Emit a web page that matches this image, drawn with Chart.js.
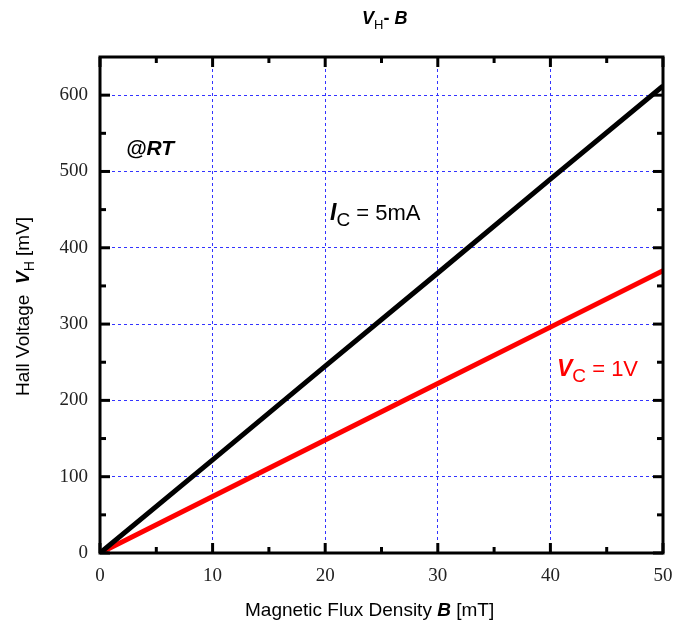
<!DOCTYPE html>
<html><head><meta charset="utf-8">
<script src="https://cdn.jsdelivr.net/npm/chart.js@4.4.1/dist/chart.umd.min.js"></script>
<style>html,body{margin:0;padding:0;background:#fff}#wrap{width:675px;height:628px}</style>
</head><body><div id="wrap"><canvas id="c"></canvas></div>
<script>
const fluxB = [0, 10, 20, 30, 40, 50];
const hallIc5mA = [0, 122, 245, 367, 490, 612];
const hallVc1V = [0, 74, 148, 222, 296, 370];
const xTickValues = [0, 10, 20, 30, 40, 50];
const yTickValues = [0, 100, 200, 300, 400, 500, 600];
const xMinorTicks = [5, 15, 25, 35, 45];
const yMinorTicks = [50, 150, 250, 350, 450, 550];

const SANS = '"Liberation Sans", Arial, sans-serif';
const SERIF = '"Liberation Serif", "Times New Roman", serif';

function rich(ctx, x, y, segs, color) {
  ctx.save();
  ctx.fillStyle = color;
  ctx.textBaseline = 'alphabetic';
  ctx.textAlign = 'left';
  let cx = x;
  for (const s of segs) {
    ctx.font = s.f;
    ctx.fillText(s.t, cx, y + (s.dy || 0));
    cx += ctx.measureText(s.t).width;
  }
  ctx.restore();
}

const decor = {
  id: 'decor',
  afterDraw(chart) {
    const ctx = chart.ctx, a = chart.chartArea;
    const xs = chart.scales.x, ys = chart.scales.y;
    ctx.save();
    ctx.strokeStyle = '#000';
    ctx.lineWidth = 3;
    ctx.lineCap = 'butt';
    ctx.strokeRect(a.left, a.top, a.right - a.left, a.bottom - a.top);
    const tick = (x1, y1, x2, y2) => { ctx.beginPath(); ctx.moveTo(x1, y1); ctx.lineTo(x2, y2); ctx.stroke(); };
    xTickValues.forEach(v => { const p = xs.getPixelForValue(v); tick(p, a.bottom, p, a.bottom - 10); tick(p, a.top, p, a.top + 10); });
    xMinorTicks.forEach(v => { const p = xs.getPixelForValue(v); tick(p, a.bottom, p, a.bottom - 6); tick(p, a.top, p, a.top + 6); });
    yTickValues.forEach(v => { const p = ys.getPixelForValue(v); tick(a.left, p, a.left + 10, p); tick(a.right, p, a.right - 10, p); });
    yMinorTicks.forEach(v => { const p = ys.getPixelForValue(v); tick(a.left, p, a.left + 6, p); tick(a.right, p, a.right - 6, p); });
    ctx.restore();

    rich(ctx, 362, 24, [
      {t: 'V', f: `italic bold 18px ${SANS}`},
      {t: 'H', f: `13px ${SANS}`, dy: 5},
      {t: '- ', f: `bold 18px ${SANS}`},
      {t: 'B', f: `italic bold 18px ${SANS}`}
    ], '#000');
    rich(ctx, 245, 616, [
      {t: 'Magnetic Flux Density ', f: `19px ${SANS}`},
      {t: 'B', f: `italic bold 19px ${SANS}`},
      {t: ' [mT]', f: `19px ${SANS}`}
    ], '#000');
    ctx.save();
    ctx.translate(29, 396);
    ctx.rotate(-Math.PI / 2);
    rich(ctx, 0, 0, [
      {t: 'Hall Voltage  ', f: `19px ${SANS}`},
      {t: 'V', f: `italic bold 19px ${SANS}`},
      {t: 'H', f: `14px ${SANS}`, dy: 5},
      {t: ' [mV]', f: `19px ${SANS}`}
    ], '#000');
    ctx.restore();
    rich(ctx, 126, 155, [{t: '@RT', f: `italic bold 21px ${SANS}`}], '#000');
    rich(ctx, 330, 220, [
      {t: 'I', f: `italic bold 23px ${SANS}`},
      {t: 'C', f: `19px ${SANS}`, dy: 6},
      {t: ' = 5mA', f: `22px ${SANS}`}
    ], '#000');
    rich(ctx, 557, 376, [
      {t: 'V', f: `italic bold 23px ${SANS}`},
      {t: 'C', f: `19px ${SANS}`, dy: 6},
      {t: ' = 1V', f: `22px ${SANS}`}
    ], '#ff0000');
  }
};

new Chart(document.getElementById('c'), {
  type: 'scatter',
  data: {
    datasets: [
      {label: 'Ic=5mA', data: fluxB.map((x, i) => ({x, y: hallIc5mA[i]})), showLine: true, borderColor: '#000', borderWidth: 5, pointRadius: 0, borderCapStyle: 'butt'},
      {label: 'Vc=1V', data: fluxB.map((x, i) => ({x, y: hallVc1V[i]})), showLine: true, borderColor: '#ff0000', borderWidth: 5, pointRadius: 0, borderCapStyle: 'butt'}
    ]
  },
  options: {
    responsive: true,
    maintainAspectRatio: false,
    animation: false,
    layout: {padding: {top: 57, right: 12, left: 0, bottom: 0}},
    plugins: {legend: {display: false}, tooltip: {enabled: false}, title: {display: false}},
    scales: {
      x: {
        type: 'linear', min: 0, max: 50,
        afterBuildTicks: s => { s.ticks = xTickValues.map(v => ({value: v})); },
        afterFit: s => { s.height = 75; s.paddingRight = 0; s.paddingLeft = 0; },
        ticks: {padding: 12, color: '#222', font: {family: SERIF, size: 19}, maxRotation: 0},
        grid: {color: '#3333ff', lineWidth: 1, drawTicks: false},
        border: {display: false, dash: [3, 3]}
      },
      y: {
        type: 'linear', min: 0, max: 650,
        afterBuildTicks: s => { s.ticks = yTickValues.map(v => ({value: v})); },
        afterFit: s => { s.width = 100; s.paddingTop = 0; s.paddingBottom = 0; },
        ticks: {padding: 12, color: '#222', font: {family: SERIF, size: 19}},
        grid: {color: '#3333ff', lineWidth: 1, drawTicks: false},
        border: {display: false, dash: [3, 3]}
      }
    }
  },
  plugins: [decor]
});
</script>
</body></html>
